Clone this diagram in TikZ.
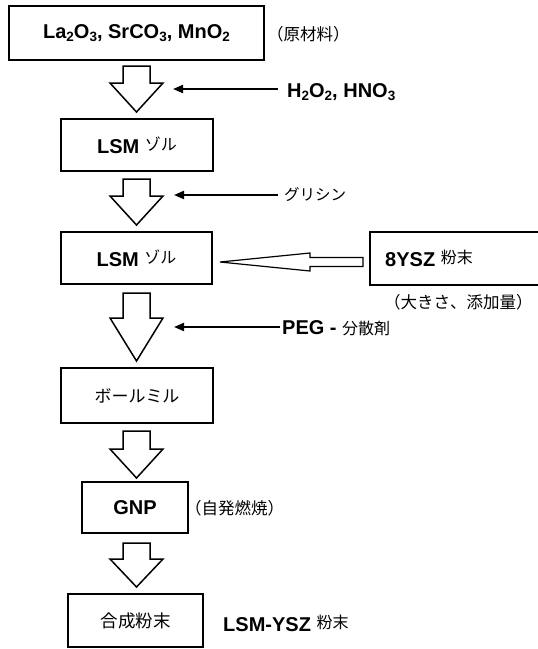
\documentclass[tikz,border=0pt]{standalone}
\usepackage{fontspec}
\setmainfont{Liberation Sans}
\newfontfamily\jp{Noto Sans CJK JP}
\usetikzlibrary{arrows.meta}
\newcommand\lo[1]{\raisebox{-0.35ex}{\fontsize{13.5}{14}\selectfont #1}}
\newcommand\smalljp[1]{\raisebox{0.3ex}{\jp\mdseries\fontsize{16}{16}\selectfont #1}}
\newcommand\blockdown[3]{\draw[barrow] (123,#1) -- (150,#1) -- (150,#2) -- (163,#2) -- (136.5,#3) -- (110,#2) -- (123,#2) -- cycle;}
\begin{document}
\begin{tikzpicture}[x=1pt,y=-1pt,
  box/.style={draw,line width=1.6pt,inner sep=0pt,font=\bfseries\fontsize{20}{22}\selectfont},
  lat/.style={font=\bfseries\fontsize{20}{22}\selectfont,inner sep=0pt,anchor=west},
  jpt/.style={font=\jp\fontsize{16.5}{18}\selectfont,inner sep=0pt,anchor=west},
  barrow/.style={draw,line width=1.5pt,line join=miter,fill=white},
  feed/.style={line width=2pt,-{Triangle[length=10pt,width=8pt]}}]
\useasboundingbox (0,0) rectangle (538,649);
% boxes
\node[box,minimum width=255pt,minimum height=54pt] (b1) at (136.5,33)
  {La\lo{2}O\lo{3}, SrCO\lo{3}, MnO\lo{2}};
\node[box,minimum width=152pt,minimum height=52pt] (b2) at (137,145)
  {LSM\ \smalljp{ゾル}};
\node[box,minimum width=151pt,minimum height=52pt] (b3) at (136.5,258)
  {LSM\ \smalljp{ゾル}};
\node[box,minimum width=152pt,minimum height=55pt] (b4) at (137,395.5)
  {\jp\mdseries\fontsize{17}{18}\selectfont ボールミル};
\node[box,minimum width=106pt,minimum height=51pt] (b5) at (135,507.5)
  {GNP};
\node[box,minimum width=135pt,minimum height=53pt] (b6) at (135.5,620.5)
  {\jp\mdseries\fontsize{17.5}{18}\selectfont 合成粉末};
% 8YSZ box (right side cut off)
\draw[line width=1.6pt] (538,232) -| (370,285) -- (538,285);
\node[lat] (ysz) at (385,258) {8YSZ \smalljp{粉末}};
\node[jpt] (yszn) at (384,302) {（大きさ、添加量）};
% block arrows
\blockdown{66}{83}{112}
\blockdown{179}{196}{225}
\blockdown{293}{318}{361}
\blockdown{431}{449}{478}
\blockdown{543}{559}{587}
% thin open arrow from 8YSZ to LSM sol
\draw[line width=1.2pt,line join=miter,fill=white]
  (220,262) -- (310,253) -- (310,257.5) -- (363,257.5) -- (363,266.5)
  -- (310,266.5) -- (310,271) -- cycle;
% feed arrows and labels
\node[lat] (t1) at (287,92) {H\lo{2}O\lo{2}, HNO\lo{3}};
\coordinate (s1) at (278,89);
\coordinate (e1) at (173,89);
\draw[feed] (s1) -- (e1);
\node[jpt] (t2) at (284,195) {\fontsize{15.5}{18}\selectfont グリシン};
\coordinate (s2) at (278,195);
\coordinate (e2) at (174,195);
\draw[feed] (s2) -- (e2);
\node[lat] (t3) at (282,328) {PEG -\ {\jp\mdseries\fontsize{16}{18}\selectfont 分散剤}};
\coordinate (s3) at (280,327);
\coordinate (e3) at (174,327);
\draw[feed] (s3) -- (e3);
% side notes
\node[jpt] (n1) at (267,34) {（原材料）};
\node[jpt] (n5) at (185,508) {（自発燃焼）};
\node[lat] (n6) at (223,623) {LSM-YSZ \smalljp{粉末}};
\end{tikzpicture}
\end{document}
